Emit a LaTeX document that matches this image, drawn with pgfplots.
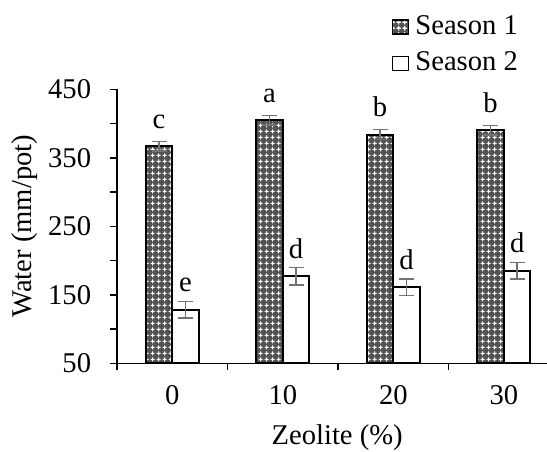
\documentclass[border=0pt]{standalone}
\usepackage{fontspec}
\setmainfont{Liberation Serif}
\usepackage{pgfplots}
\usepackage{pgfplotstable}
\pgfplotsset{compat=1.18}
\usetikzlibrary{patterns,calc}

% white crosses on a dark ground, like the Season 1 fill
\pgfdeclarepatternformonly{wcross}{\pgfqpoint{0pt}{0pt}}{\pgfqpoint{3pt}{3pt}}{\pgfqpoint{3pt}{3pt}}{
  \pgfpathrectangle{\pgfqpoint{1.2pt}{0.35pt}}{\pgfqpoint{0.6pt}{2.3pt}}
  \pgfpathrectangle{\pgfqpoint{0.35pt}{1.2pt}}{\pgfqpoint{2.3pt}{0.6pt}}
  \pgfusepath{fill}
}

% zeolite level index, mean water use, error, letter
\pgfplotstableread{
x y err lab
0 367 7 c
1 405 7 a
2 384 7 b
3 390 7 b
}\seasonone
\pgfplotstableread{
x y err lab
0 128 12 e
1 177 13 d
2 161 12 d
3 185 12 d
}\seasontwo

\begin{document}
\fontsize{14.3}{17}\selectfont
\begin{tikzpicture}
\begin{axis}[
    name=ax,
    scale only axis,
    width=215pt, height=137pt,
    xmin=-0.5, xmax=3.39,
    ymin=50, ymax=450,
    axis x line*=bottom,
    axis y line*=left,
    axis line style={line width=0.75pt},
    ybar=0pt, bar width=0.24,
    xtick={0,1,2,3}, xticklabels={0,10,20,30},
    major x tick style={draw=none},
    minor xtick={-0.5,0.5,1.5,2.5},
    ytick={50,150,...,450},
    minor ytick={100,200,300,400},
    tick align=outside,
    major tick length=3.5pt, minor tick length=3.5pt,
    tick style={black, line width=0.75pt},
    /pgf/number format/assume math mode=true,
    xticklabel style={yshift=-2.5pt},
    yticklabel style={xshift=-4.5pt},
    xlabel={Zeolite (\%)},
    ylabel={Water (mm/pot)},
    xlabel style={at={(axis description cs:0.512,-0.27)}, anchor=center},
    ylabel style={at={(axis description cs:-0.214,0.5)}, anchor=center, rotate=0},
    legend style={at={(rel axis cs:0.638,1.282)}, anchor=north west,
        draw=none, fill=none, inner sep=0pt, row sep=3.5pt,
        nodes={inner sep=1.5pt}},
    legend cell align=left,
    nodes near coords,
    point meta=explicit symbolic,
    every node near coord/.append style={anchor=base, inner sep=0pt, yshift=9pt, text=black},
]
\addplot[draw=black, line width=1pt, fill=black!68,
    postaction={pattern=wcross, pattern color=white},
    legend image code/.code={\draw[draw=black, line width=0.7pt, fill=black!68,
        postaction={pattern=wcross, pattern color=white}] (0pt,-3.5pt) rectangle (8pt,3.5pt);
        \pgfpathmoveto{\pgfqpoint{10pt}{0pt}}\pgfusepath{discard}},
    error bars/.cd, y dir=both, y explicit,
    error bar style={black!55, line width=0.75pt},
    error mark options={rotate=90, black!55, mark size=3.75pt, line width=0.75pt}]
    table[x=x, y=y, y error=err, meta=lab] {\seasonone};
\addlegendentry{Season 1}
\addplot[draw=black, line width=1pt, fill=white,
    legend image code/.code={\draw[draw=black, line width=0.7pt, fill=white] (0pt,-3.5pt) rectangle (8pt,3.5pt);
        \pgfpathmoveto{\pgfqpoint{10pt}{0pt}}\pgfusepath{discard}},
    error bars/.cd, y dir=both, y explicit,
    error bar style={black!55, line width=0.75pt},
    error mark options={rotate=90, black!55, mark size=3.75pt, line width=0.75pt}]
    table[x=x, y=y, y error=err, meta=lab] {\seasontwo};
\addlegendentry{Season 2}
\end{axis}
\pgfresetboundingbox
\path ($(ax.south west)+(-58.5pt,-43.85pt)$) rectangle ($(ax.north east)+(0pt,44.65pt)$);
\end{tikzpicture}
\end{document}
